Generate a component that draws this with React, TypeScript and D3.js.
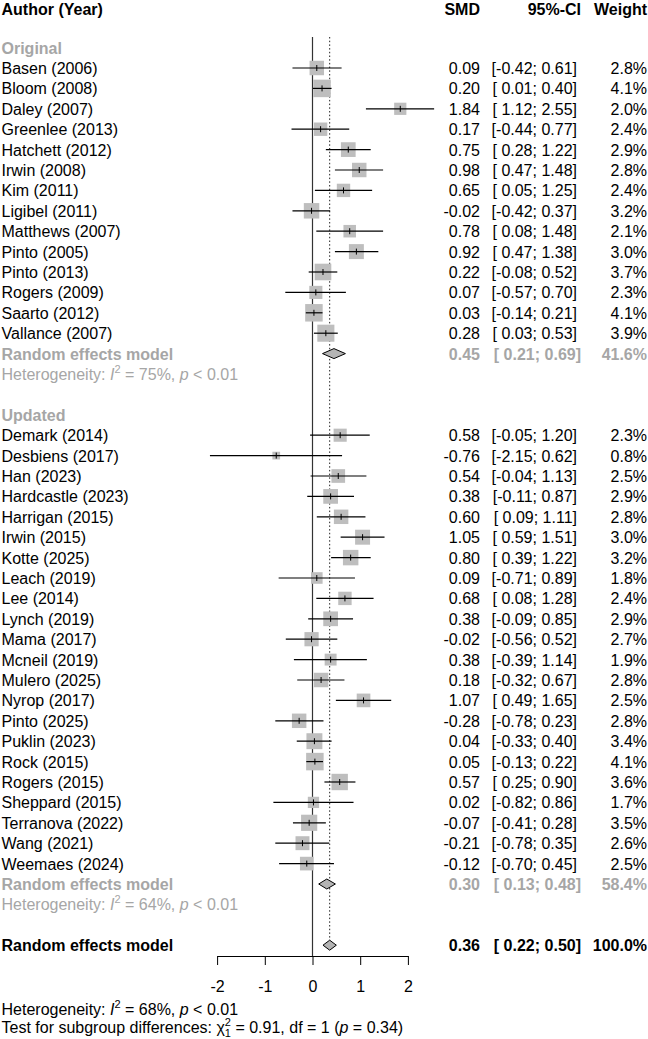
import React, { useEffect, useRef } from 'react';
import * as d3 from 'd3';

// Original trials
const originalAuthors = [
  'Basen (2006)', 'Bloom (2008)', 'Daley (2007)', 'Greenlee (2013)', 'Hatchett (2012)',
  'Irwin (2008)', 'Kim (2011)', 'Ligibel (2011)', 'Matthews (2007)', 'Pinto (2005)',
  'Pinto (2013)', 'Rogers (2009)', 'Saarto (2012)', 'Vallance (2007)'
];
const originalSMD = [0.09, 0.20, 1.84, 0.17, 0.75, 0.98, 0.65, -0.02, 0.78, 0.92, 0.22, 0.07, 0.03, 0.28];
const originalLower = [-0.42, 0.01, 1.12, -0.44, 0.28, 0.47, 0.05, -0.42, 0.08, 0.47, -0.08, -0.57, -0.14, 0.03];
const originalUpper = [0.61, 0.40, 2.55, 0.77, 1.22, 1.48, 1.25, 0.37, 1.48, 1.38, 0.52, 0.70, 0.21, 0.53];
const originalWeight = [2.8, 4.1, 2.0, 2.4, 2.9, 2.8, 2.4, 3.2, 2.1, 3.0, 3.7, 2.3, 4.1, 3.9];

// Updated trials
const updatedAuthors = [
  'Demark (2014)', 'Desbiens (2017)', 'Han (2023)', 'Hardcastle (2023)', 'Harrigan (2015)',
  'Irwin (2015)', 'Kotte (2025)', 'Leach (2019)', 'Lee (2014)', 'Lynch (2019)', 'Mama (2017)',
  'Mcneil (2019)', 'Mulero (2025)', 'Nyrop (2017)', 'Pinto (2025)', 'Puklin (2023)',
  'Rock (2015)', 'Rogers (2015)', 'Sheppard (2015)', 'Terranova (2022)', 'Wang (2021)',
  'Weemaes (2024)'
];
const updatedSMD = [0.58, -0.76, 0.54, 0.38, 0.60, 1.05, 0.80, 0.09, 0.68, 0.38, -0.02, 0.38, 0.18, 1.07, -0.28, 0.04, 0.05, 0.57, 0.02, -0.07, -0.21, -0.12];
const updatedLower = [-0.05, -2.15, -0.04, -0.11, 0.09, 0.59, 0.39, -0.71, 0.08, -0.09, -0.56, -0.39, -0.32, 0.49, -0.78, -0.33, -0.13, 0.25, -0.82, -0.41, -0.78, -0.70];
const updatedUpper = [1.20, 0.62, 1.13, 0.87, 1.11, 1.51, 1.22, 0.89, 1.28, 0.85, 0.52, 1.14, 0.67, 1.65, 0.23, 0.40, 0.22, 0.90, 0.86, 0.28, 0.35, 0.45];
const updatedWeight = [2.3, 0.8, 2.5, 2.9, 2.8, 3.0, 3.2, 1.8, 2.4, 2.9, 2.7, 1.9, 2.8, 2.5, 2.8, 3.4, 4.1, 3.6, 1.7, 3.5, 2.6, 2.5];

// Random effects summaries per subgroup
const subgroupNames = ['Original', 'Updated'];
const subgroupSMD = [0.45, 0.30];
const subgroupLower = [0.21, 0.13];
const subgroupUpper = [0.69, 0.48];
const subgroupWeight = [41.6, 58.4];
const subgroupI2 = [75, 64];

// Overall model
const overallSMD = 0.36;
const overallLower = 0.22;
const overallUpper = 0.50;
const overallI2 = 68;
const subgroupChi2 = 0.91;
const subgroupDf = 1;
const subgroupP = 0.34;

const axisTicks = [-2, -1, 0, 1, 2];

const fmt = (v: number) => v.toFixed(2);
const fmtCI = (lo: number, hi: number) => `[${lo < 0 ? '' : ' '}${fmt(lo)}; ${fmt(hi)}]`;

const App = () => {
  const svgRef = useRef<SVGSVGElement>(null);

  useEffect(() => {
    const svg = d3.select(svgRef.current);
    svg.selectAll('*').remove();

    const font = '"Liberation Sans", Arial, Helvetica, sans-serif';
    const gray = '#A6A6A6';
    const fs = 16;

    const x = d3.scaleLinear().domain([-2, 2]).range([217.1, 407.9]);
    const rowY = d3.scaleLinear().domain([0, 1]).range([68, 88.4]);
    const box = d3.scaleSqrt().domain([0, 4.1]).range([0, 17.5]);

    const colSMD = 480;
    const colCI = 577;
    const colW = 647;
    const axisY = 956;

    const root = svg.append('g').style('font-family', font).style('font-size', `${fs}px`);

    const text = (tx: number, ty: number, str: string, opts: any = {}) =>
      root.append('text')
        .attr('x', tx)
        .attr('y', ty)
        .attr('text-anchor', opts.anchor || 'start')
        .attr('fill', opts.color || '#000')
        .attr('font-weight', opts.bold ? 'bold' : 'normal')
        .style('white-space', 'pre')
        .text(str);

    // Header
    text(1.5, 14.5, 'Author (Year)', { bold: true });
    text(colSMD, 14.5, 'SMD', { bold: true, anchor: 'end' });
    text(581, 14.5, '95%-CI', { bold: true, anchor: 'end' });
    text(colW, 14.5, 'Weight', { bold: true, anchor: 'end' });

    // Reference line at zero and dotted line at the pooled estimate
    root.append('line')
      .attr('x1', x(0)).attr('x2', x(0))
      .attr('y1', 37).attr('y2', axisY)
      .attr('stroke', '#333').attr('stroke-width', 1.2);
    root.append('line')
      .attr('x1', x(overallSMD)).attr('x2', x(overallSMD))
      .attr('y1', 37).attr('y2', rowY(43) - 5)
      .attr('stroke', '#222').attr('stroke-width', 1)
      .attr('stroke-dasharray', '1.5,2.2');

    const diamond = (k: number, est: number, lo: number, hi: number) => {
      const cy = rowY(k);
      const h = 5;
      root.append('path')
        .attr('d', `M${x(lo)},${cy}L${x(est)},${cy - h}L${x(hi)},${cy}L${x(est)},${cy + h}Z`)
        .attr('fill', '#B4B4B4')
        .attr('stroke', '#000')
        .attr('stroke-width', 1);
    };

    const hetLine = (ty: number, i2: number, color: string) => {
      const t = text(1.5, ty, '', { color });
      t.append('tspan').text('Heterogeneity: ');
      t.append('tspan').attr('font-style', 'italic').text('I');
      t.append('tspan').attr('font-size', 11).attr('dy', -7).text('2');
      t.append('tspan').attr('dy', 7).text(` = ${i2}%, `);
      t.append('tspan').attr('font-style', 'italic').text('p');
      t.append('tspan').text(' < 0.01');
    };

    const groups = [
      { authors: originalAuthors, smd: originalSMD, lo: originalLower, hi: originalUpper, w: originalWeight },
      { authors: updatedAuthors, smd: updatedSMD, lo: updatedLower, hi: updatedUpper, w: updatedWeight }
    ];

    let k = -1;
    groups.forEach((g, gi) => {
      text(1.5, rowY(k) + 6, subgroupNames[gi], { bold: true, color: gray });
      k += 1;
      g.authors.forEach((name, i) => {
        const cy = rowY(k);
        const s = box(g.w[i]);
        text(1.5, cy + 6, name);
        root.append('rect')
          .attr('x', x(g.smd[i]) - s / 2)
          .attr('y', cy - s / 2)
          .attr('width', s)
          .attr('height', s)
          .attr('fill', '#BEBEBE');
        root.append('line')
          .attr('x1', x(g.lo[i])).attr('x2', x(g.hi[i]))
          .attr('y1', cy).attr('y2', cy)
          .attr('stroke', '#000').attr('stroke-width', 1.2);
        root.append('line')
          .attr('x1', x(g.smd[i])).attr('x2', x(g.smd[i]))
          .attr('y1', cy - 3).attr('y2', cy + 3)
          .attr('stroke', '#000').attr('stroke-width', 1);
        text(colSMD, cy + 6, fmt(g.smd[i]), { anchor: 'end' });
        text(colCI, cy + 6, fmtCI(g.lo[i], g.hi[i]), { anchor: 'end' });
        text(colW, cy + 6, `${g.w[i].toFixed(1)}%`, { anchor: 'end' });
        k += 1;
      });
      // Subgroup pooled estimate
      const cy = rowY(k);
      diamond(k, subgroupSMD[gi], subgroupLower[gi], subgroupUpper[gi]);
      text(1.5, cy + 6, 'Random effects model', { bold: true, color: gray });
      text(colSMD, cy + 6, fmt(subgroupSMD[gi]), { bold: true, color: gray, anchor: 'end' });
      text(colCI + 4, cy + 6, fmtCI(subgroupLower[gi], subgroupUpper[gi]), { bold: true, color: gray, anchor: 'end' });
      text(colW, cy + 6, `${subgroupWeight[gi].toFixed(1)}%`, { bold: true, color: gray, anchor: 'end' });
      k += 1;
      hetLine(rowY(k) + 6, subgroupI2[gi], gray);
      k += 2;
    });

    // Overall pooled estimate
    const oy = rowY(k);
    diamond(k, overallSMD, overallLower, overallUpper);
    text(1.5, oy + 6, 'Random effects model', { bold: true });
    text(colSMD, oy + 6, fmt(overallSMD), { bold: true, anchor: 'end' });
    text(colCI + 4, oy + 6, fmtCI(overallLower, overallUpper), { bold: true, anchor: 'end' });
    text(colW, oy + 6, '100.0%', { bold: true, anchor: 'end' });

    // Axis
    const axis = root.append('g')
      .attr('transform', `translate(0,${axisY})`)
      .call(
        d3.axisBottom(x)
          .tickValues(axisTicks)
          .tickSize(9)
          .tickSizeOuter(0)
          .tickPadding(16)
          .tickFormat((d: any) => String(d))
      );
    axis.selectAll('.domain').attr('stroke', '#000').attr('stroke-width', 1);
    axis.selectAll('.tick line').attr('stroke', '#000').attr('stroke-width', 1);
    axis.selectAll('.tick text')
      .attr('fill', '#000')
      .style('font-family', font)
      .style('font-size', `${fs}px`);

    // Overall heterogeneity and subgroup test
    hetLine(1014.5, overallI2, '#000');
    const t = text(1.5, 1032.5, 'Test for subgroup differences: ');
    t.append('tspan').text('χ');
    t.append('tspan').attr('font-size', 11).attr('dy', -7).text('2');
    t.append('tspan').attr('font-size', 11).attr('dx', -6.1).attr('dy', 11).text(String(subgroupDf));
    t.append('tspan').attr('dy', -4).text(` = ${subgroupChi2.toFixed(2)}, df = ${subgroupDf} (`);
    t.append('tspan').attr('font-style', 'italic').text('p');
    t.append('tspan').text(` = ${subgroupP.toFixed(2)})`);
  }, []);

  return (
    <>
      <style>{'body{margin:0;background:#fff}'}</style>
      <svg ref={svgRef} width={648} height={1039} style={{ display: 'block' }} />
    </>
  );
};

export default App;
